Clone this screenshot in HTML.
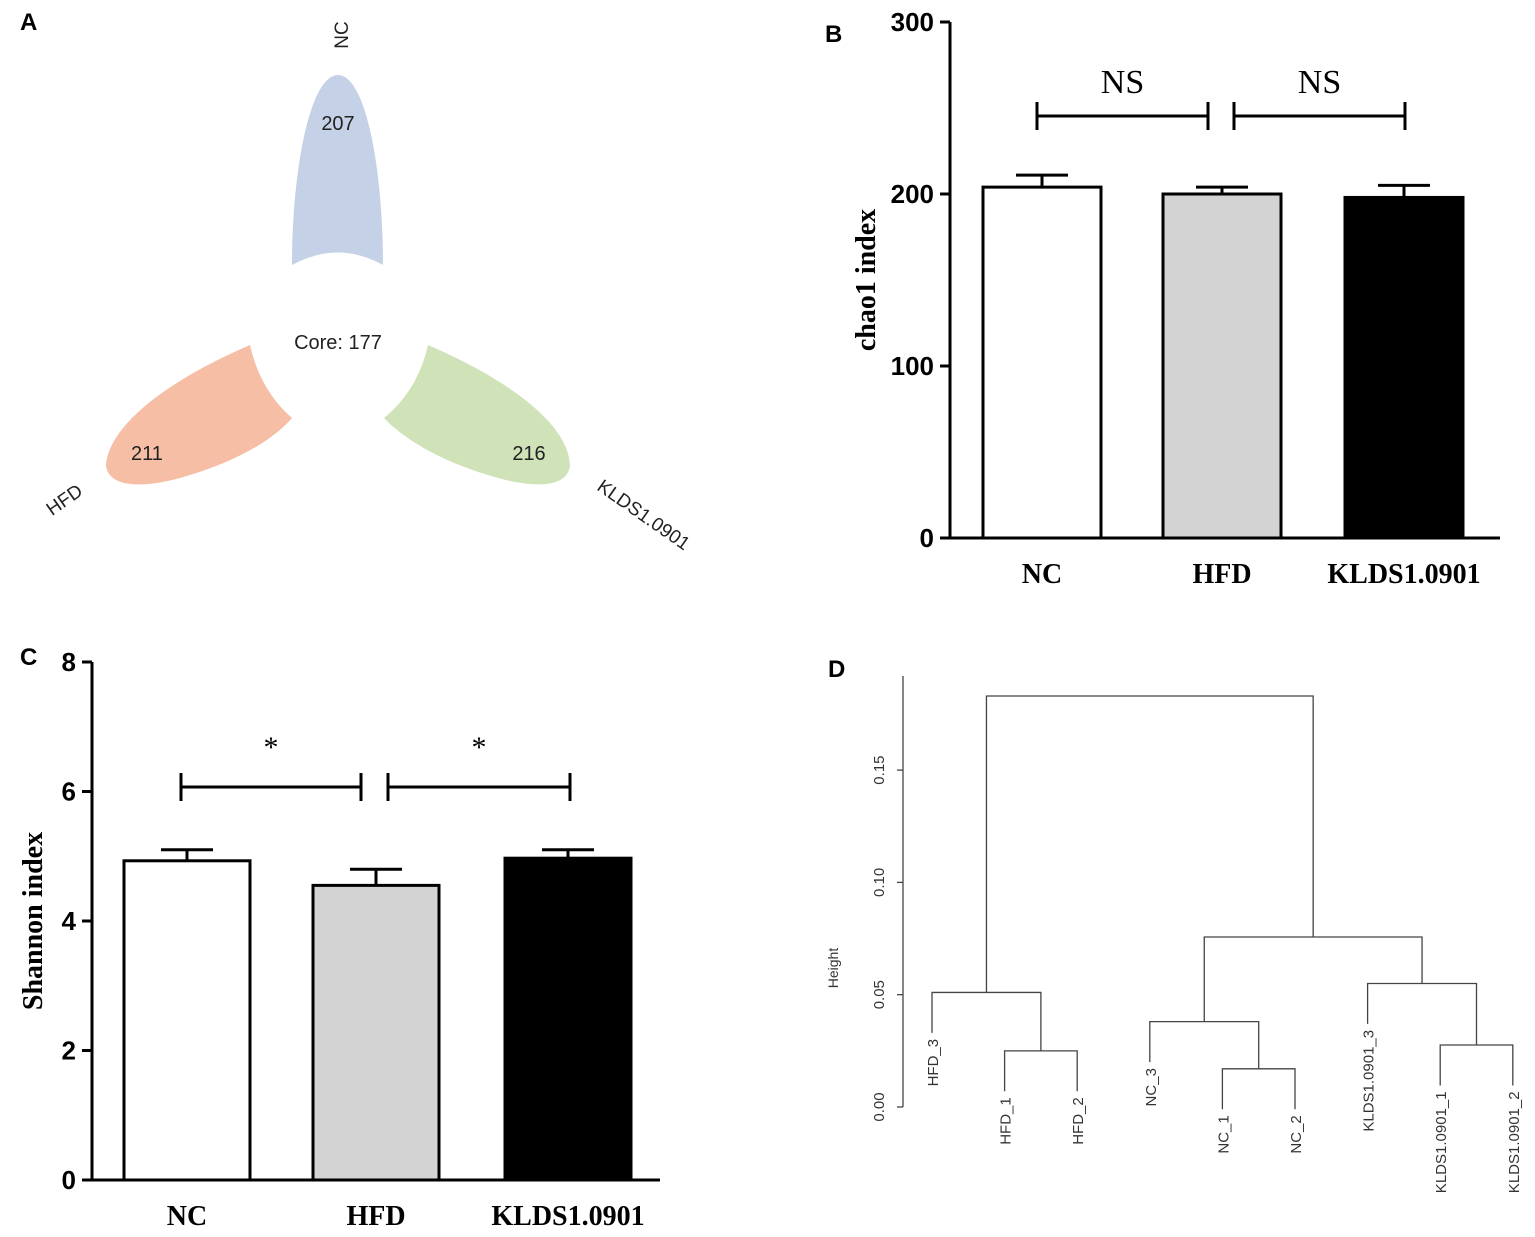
<!DOCTYPE html>
<html><head><meta charset="utf-8"><style>
html,body{margin:0;padding:0;background:#fff}
svg{display:block}
.sv{font-family:"Liberation Serif",serif;font-weight:bold}
.ss{font-family:"Liberation Sans",sans-serif}
</style></head><body>
<svg id="fig" width="1535" height="1237" viewBox="0 0 1535 1237" xmlns="http://www.w3.org/2000/svg">
<g>
<text x="20" y="30" class="ss" font-size="24" font-weight="bold">A</text>
<path d="M292,265 C292,170 310,75 338,75 C366,75 383,170 383,265 Q338,240 292,265 Z" fill="#c4d1e6"/>
<path d="M250,345 C180,375 110,420 106,465 C108,490 150,488 190,475 C240,460 275,438 292,418 Q260,390 250,345 Z" fill="#f5bea5"/>
<path d="M428,345 C498,375 568,420 570,465 C568,490 528,488 488,475 C438,460 403,438 384,418 Q418,390 428,345 Z" fill="#cfe2b8"/>
<text x="338" y="130" class="ss" font-size="20" text-anchor="middle" fill="#222">207</text>
<text x="147" y="460" class="ss" font-size="20" text-anchor="middle" fill="#222">211</text>
<text x="529" y="460" class="ss" font-size="20" text-anchor="middle" fill="#222">216</text>
<text x="338" y="349" class="ss" font-size="20" text-anchor="middle" fill="#222">Core: 177</text>
<text transform="translate(348,35) rotate(-90)" class="ss" font-size="19" text-anchor="middle" fill="#222">NC</text>
<text transform="translate(68,505) rotate(-35)" class="ss" font-size="19" text-anchor="middle" fill="#222">HFD</text>
<text transform="translate(640,520) rotate(35)" class="ss" font-size="19" text-anchor="middle" fill="#222">KLDS1.0901</text>
</g>
<g id="pB"><text x="825" y="42" class="ss" font-size="24" font-weight="bold">B</text></g>
<g id="pC"><text x="20" y="665" class="ss" font-size="24" font-weight="bold">C</text></g>
<g id="pD"><text x="828" y="677" class="ss" font-size="24" font-weight="bold">D</text></g>
</svg>
<script>
const NS="http://www.w3.org/2000/svg";
const groups=["NC","HFD","KLDS1.0901"];
const chaoVals=[204,200,198];
const chaoErr=[211,204,205];
const chaoTicks=[0,100,200,300];
const shanVals=[4.93,4.55,4.97];
const shanErr=[5.1,4.8,5.1];
const shanTicks=[0,2,4,6,8];
const leafNames=["HFD_3","HFD_1","HFD_2","NC_3","NC_1","NC_2","KLDS1.0901_3","KLDS1.0901_1","KLDS1.0901_2"];
const mergeHeights=[0.183,0.0757,0.051,0.025,0.038,0.017,0.055,0.0276];
const dTicks=[0.00,0.05,0.10,0.15];
const fills=["#fff","#d3d3d3","#000"];
function mk(p,tag,at,txt){const e=document.createElementNS(NS,tag);for(const k in at)e.setAttribute(k,at[k]);if(txt!=null)e.textContent=txt;p.appendChild(e);return e;}
function barPanel(g,o){
  const y=v=>o.y0-(v-o.min)/(o.max-o.min)*(o.y0-o.y1);
  let a=mk(g,'line',{x1:o.ax,y1:o.y1,x2:o.ax,y2:o.y0,stroke:'#000','stroke-width':3});
  
  a=mk(g,'line',{x1:o.ax,y1:o.y0,x2:o.xend,y2:o.y0,stroke:'#000','stroke-width':3});
  
  o.ticks.forEach(t=>{
    const l=mk(g,'line',{x1:o.ax-10,x2:o.ax,y1:y(t),y2:y(t),stroke:'#000','stroke-width':3});
    
    const tx=mk(g,'text',{x:o.ax-16,y:y(t)+9,'text-anchor':'end','font-size':26,class:'ss','font-weight':'bold'},t);
    
  });
  const tt=mk(g,'text',{transform:`translate(${o.titleX},${(o.y0+o.y1)/2}) rotate(-90)`,'text-anchor':'middle','font-size':28,class:'sv'},o.title);
  
  o.vals.forEach((v,i)=>{
    const x=o.bx[i],cx=x+o.bw/2;
    const eb=mk(g,'path',{d:`M${cx},${y(v)}V${y(o.err[i])}M${cx-o.cap},${y(o.err[i])}H${cx+o.cap}`,stroke:'#000','stroke-width':3,fill:'none'});
    
    const r=mk(g,'rect',{x:x,y:y(v),width:o.bw,height:o.y0-y(v),fill:fills[i],stroke:'#000','stroke-width':3});
    
    const lb=mk(g,'text',{x:cx,y:o.xlabY,'text-anchor':'middle','font-size':28,class:'sv'},groups[i]);
    
  });
  o.brackets.forEach(b=>{
    const p=mk(g,'path',{d:`M${b[0]},${o.brY-14}V${o.brY+14}M${b[0]},${o.brY}H${b[1]}M${b[1]},${o.brY-14}V${o.brY+14}`,stroke:'#000','stroke-width':3,fill:'none'});
    
    const s=mk(g,'text',{x:(b[0]+b[1])/2,y:o.sigY,'text-anchor':'middle','font-size':o.sigSize,style:'font-family:"Liberation Serif",serif;font-weight:normal'},o.sig);
    
  });
}
barPanel(document.getElementById('pB'),{ax:950,y0:538,y1:22,min:0,max:300,xend:1500,ticks:chaoTicks,vals:chaoVals,err:chaoErr,
 bx:[983,1163,1345],bw:118,cap:26,title:'chao1 index',titleX:875,xlabY:583,brackets:[[1037,1208],[1234,1405]],brY:116,sig:'NS',sigY:93,sigSize:34});
barPanel(document.getElementById('pC'),{ax:92,y0:1180,y1:662,min:0,max:8,xend:660,ticks:shanTicks,vals:shanVals,err:shanErr,
 bx:[124,313,505],bw:126,cap:26,title:'Shannon index',titleX:42,xlabY:1225,brackets:[[181,361],[388,570]],brY:787,sig:'*',sigY:757,sigSize:30});
(function(){
 const g=document.getElementById('pD');
 const y=v=>1107-v/0.05*112.3;
 const lx=i=>932+i*72.6;
 const ax=mk(g,'line',{x1:903,x2:903,y1:y(0),y2:676,stroke:'#444','stroke-width':1.3});
 
 dTicks.forEach(t=>{
  const l=mk(g,'line',{x1:897,x2:903,y1:y(t),y2:y(t),stroke:'#444','stroke-width':1.3});
  
  const tx=mk(g,'text',{transform:`translate(884,${y(t)}) rotate(-90)`,'text-anchor':'middle','font-size':15,class:'ss',fill:'#333'},t.toFixed(2));
  
 });
 const ht=mk(g,'text',{transform:`translate(838,968) rotate(-90)`,'text-anchor':'middle','font-size':14,class:'ss',fill:'#333'},'Height');
 
 const H=mergeHeights;
 const hang=0.018;
 function merge(a,b,h){
  const p=mk(g,'path',{d:`M${a.x},${y(a.top!==undefined?a.top:a.h)}V${y(h)}H${b.x}V${y(b.top!==undefined?b.top:b.h)}`,stroke:'#444','stroke-width':1.3,fill:'none'});
  
  return {x:(a.x+b.x)/2,h:h};
 }
 function L(i,ph){return {x:lx(i),top:ph-hang,i};}
 const n3=merge(L(1,H[3]),L(2,H[3]),H[3]);
 const n2=merge(L(0,H[2]),n3,H[2]);
 const n5=merge(L(4,H[5]),L(5,H[5]),H[5]);
 const n4=merge(L(3,H[4]),n5,H[4]);
 const n7=merge(L(7,H[7]),L(8,H[7]),H[7]);
 const n6=merge(L(6,H[6]),n7,H[6]);
 const n1=merge(n4,n6,H[1]);
 merge(n2,n1,H[0]);
 const ph=[H[2],H[3],H[3],H[4],H[5],H[5],H[6],H[7],H[7]];
 leafNames.forEach((nm,i)=>{
  const t=mk(g,'text',{transform:`translate(${lx(i)+6},${y(ph[i]-hang)+6}) rotate(-90)`,'text-anchor':'end','font-size':15,class:'ss',fill:'#333'},nm);
  
 });
})();
</script>
</body></html>
